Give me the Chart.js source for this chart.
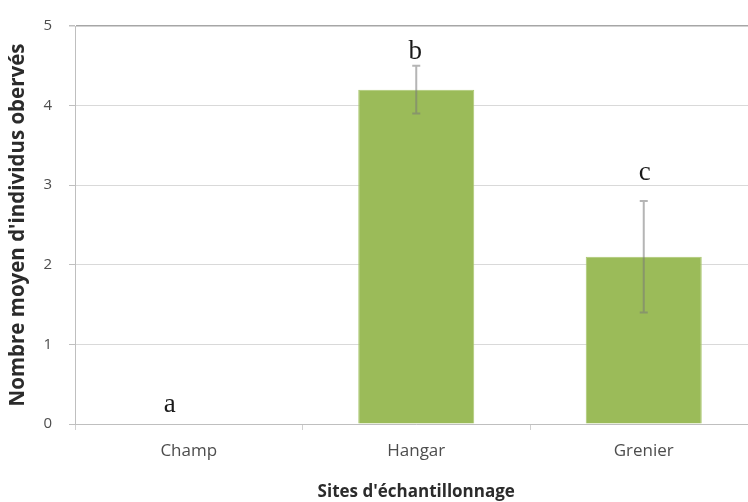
<!DOCTYPE html>
<html>
<head>
<meta charset="utf-8">
<script src="https://cdn.jsdelivr.net/npm/chart.js@4/dist/chart.umd.min.js"></script>
<style>
  html, body { margin: 0; padding: 0; background: #ffffff; overflow: hidden; }
  #wrap { position: relative; width: 760px; height: 502px; }
</style>
</head>
<body>
<div id="wrap"><canvas id="chart"></canvas></div>
<script>
const sites = ["Champ", "Hangar", "Grenier"];
const meanCounts = [0, 4.2, 2.1];
const errorSizes = [0, 0.3, 0.7];
const groupLetters = ["a", "b", "c"];
const letterLevels = [0.15, 4.58, 3.07];
const yTicks = [0, 1, 2, 3, 4, 5];

const palette = {
  bar: "#9bbb59",
  barEdge: "#abc872",
  grid: "#d9d9d9",
  topLine: "#a6a6a6",
  axis: "#bfbfbf",
  tickText: "#4d4d4d",
  title: "#2b2b2b",
  whisker: "rgba(120, 120, 120, 0.55)",
};

const errorBars = {
  id: "errorBars",
  afterDatasetsDraw(chart) {
    const { ctx, scales } = chart;
    const meta = chart.getDatasetMeta(0);
    ctx.save();
    ctx.strokeStyle = palette.whisker;
    ctx.lineWidth = 2;
    meta.data.forEach((bar, i) => {
      const err = errorSizes[i];
      if (!err) return;
      const yHigh = scales.y.getPixelForValue(meanCounts[i] + err);
      const yLow = scales.y.getPixelForValue(meanCounts[i] - err);
      ctx.beginPath();
      ctx.moveTo(bar.x, yHigh);
      ctx.lineTo(bar.x, yLow);
      ctx.moveTo(bar.x - 4, yHigh);
      ctx.lineTo(bar.x + 4, yHigh);
      ctx.moveTo(bar.x - 4, yLow);
      ctx.lineTo(bar.x + 4, yLow);
      ctx.stroke();
    });
    ctx.restore();
  },
};

const letterMarks = {
  id: "letterMarks",
  afterDraw(chart) {
    const { ctx, scales } = chart;
    const nudges = [-19, -1, 1];
    ctx.save();
    ctx.fillStyle = "#1a1a1a";
    ctx.font = "27px 'Liberation Serif', 'DejaVu Serif', serif";
    ctx.textAlign = "center";
    ctx.textBaseline = "alphabetic";
    groupLetters.forEach((letter, i) => {
      const x = scales.x.getPixelForValue(i) + nudges[i];
      const y = scales.y.getPixelForValue(letterLevels[i]);
      ctx.fillText(letter, x, y);
    });
    ctx.restore();
  },
};

new Chart(document.getElementById("chart"), {
  type: "bar",
  data: {
    labels: sites,
    datasets: [
      {
        data: meanCounts,
        backgroundColor: palette.bar,
        borderColor: palette.barEdge,
        borderWidth: 1,
        barPercentage: 0.51,
        categoryPercentage: 1,
      },
    ],
  },
  options: {
    responsive: true,
    maintainAspectRatio: false,
    animation: false,
    layout: { padding: { top: 22, right: 2.5, bottom: 0, left: 0 } },
    plugins: {
      legend: { display: false },
      tooltip: { enabled: false },
    },
    scales: {
      x: {
        afterFit(scale) { scale.height = 78; },
        grid: {
          offset: true,
          drawOnChartArea: false,
          drawTicks: true,
          tickLength: 6,
          color: "#d0d0d0",
        },
        border: { color: palette.axis, width: 1 },
        ticks: {
          color: palette.tickText,
          padding: 11,
          font: { family: "'Open Sans', 'Noto Sans', sans-serif", size: 17 },
        },
        title: {
          display: true,
          text: "Sites d'échantillonnage",
          color: palette.title,
          padding: { top: 0, bottom: 0 },
          font: { family: "'Open Sans', 'Noto Sans', sans-serif", size: 17, weight: "bold" },
        },
      },
      y: {
        min: 0,
        max: 5,
        afterFit(scale) { scale.width = 75; },
        afterBuildTicks(scale) { scale.ticks = yTicks.map((v) => ({ value: v })); },
        grid: {
          color: (c) => (c.tick && c.tick.value === 5 ? palette.topLine : palette.grid),
          lineWidth: (c) => (c.tick && c.tick.value === 5 ? 1.5 : 1),
          tickLength: 6,
          tickColor: palette.axis,
        },
        border: { color: palette.axis, width: 1 },
        ticks: {
          color: palette.tickText,
          padding: 17,
          font: { family: "'Open Sans', 'Noto Sans', sans-serif", size: 15 },
        },
        title: {
          display: true,
          text: "Nombre moyen d'individus obervés",
          color: palette.title,
          padding: { top: 6, bottom: 0 },
          font: { family: "'Open Sans', 'Noto Sans', sans-serif", size: 20.5, weight: "bold" },
        },
      },
    },
  },
  plugins: [errorBars, letterMarks],
});
</script>
</body>
</html>
